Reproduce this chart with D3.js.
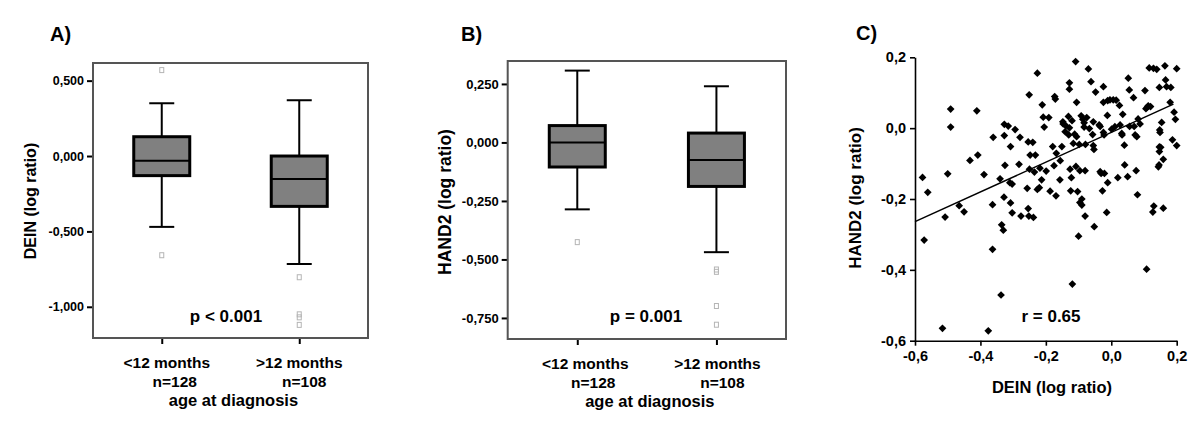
<!DOCTYPE html>
<html>
<head>
<meta charset="utf-8">
<script src="https://cdn.jsdelivr.net/npm/d3@7"></script>
<style>
  body { margin: 0; background: #fff; }
  svg { display: block; }
  text { font-family: "Liberation Sans", Arial, Helvetica, sans-serif; font-weight: bold; fill: #000; }
</style>
</head>
<body>
<div id="chart"></div>
<script>
// groups on the box plot x axis
const groups = ["<12 months", ">12 months"];
const groupN = ["n=128", "n=108"];

// box stats per group: [low whisker, q1, median, q3, high whisker]
const deinStats = [[-0.47, -0.13, -0.031, 0.128, 0.35], [-0.716, -0.334, -0.153, 0.0, 0.37]];
const deinOutliers = [[0.57, -0.658], [-0.804, -1.05, -1.07, -1.12]];
const hand2Stats = [[-0.286, -0.105, 0.0, 0.072, 0.307], [-0.469, -0.188, -0.075, 0.04, 0.24]];
const hand2Outliers = [[-0.426], [-0.543, -0.553, -0.699, -0.779]];

const deinTicks = [0.5, 0, -0.5, -1];
const hand2Ticks = [0.25, 0, -0.25, -0.5, -0.75];
const scatterTicks = [-0.6, -0.4, -0.2, 0, 0.2];

// DEIN vs HAND2 (log ratio)
const scatterPoints = [
  [-0.577,-0.139],[-0.561,-0.181],[-0.572,-0.316],[-0.508,-0.251],[-0.500,-0.129],[-0.491,0.054],
  [-0.491,0.003],[-0.465,-0.219],[-0.450,-0.236],[-0.432,-0.091],[-0.408,-0.076],[-0.411,0.049],
  [-0.389,-0.131],[-0.363,-0.216],[-0.363,-0.342],[-0.361,-0.026],[-0.340,-0.143],[-0.335,-0.273],
  [-0.330,-0.288],[-0.337,-0.471],[-0.328,-0.195],[-0.327,0.011],[-0.325,-0.105],[-0.327,-0.021],
  [-0.315,0.006],[-0.310,-0.154],[-0.303,-0.158],[-0.308,-0.211],[-0.303,-0.239],[-0.294,-0.004],
  [-0.308,-0.052],[-0.282,-0.102],[-0.279,-0.026],[-0.276,-0.248],[-0.252,-0.248],[-0.254,-0.039],
  [-0.257,-0.170],[-0.226,0.155],[-0.251,0.094],[-0.248,-0.076],[-0.250,-0.116],[-0.254,-0.227],
  [-0.240,-0.040],[-0.235,-0.124],[-0.232,-0.076],[-0.238,-0.252],[-0.226,-0.173],[-0.220,-0.168],
  [-0.218,-0.113],[-0.213,-0.146],[-0.211,0.066],[-0.208,0.031],[-0.205,0.003],[-0.199,-0.121],
  [-0.191,0.030],[-0.187,-0.178],[-0.179,-0.052],[-0.175,-0.106],[-0.173,0.089],[-0.171,0.082],
  [-0.169,-0.191],[-0.168,-0.071],[-0.157,-0.146],[-0.156,-0.092],[-0.151,-0.052],[-0.148,0.018],
  [-0.147,0.012],[-0.141,-0.010],[-0.139,0.007],[-0.128,0.128],[-0.128,0.110],[-0.131,0.033],
  [-0.128,0.001],[-0.130,-0.019],[-0.126,-0.116],[-0.124,-0.177],[-0.122,-0.140],[-0.120,0.021],
  [-0.116,-0.043],[-0.112,-0.017],[-0.109,0.188],[-0.106,0.073],[-0.108,-0.108],[-0.106,-0.024],
  [-0.103,-0.179],[-0.098,-0.046],[-0.096,-0.120],[-0.096,-0.210],[-0.090,-0.200],[-0.090,-0.217],
  [-0.092,0.035],[-0.087,0.025],[-0.083,0.003],[-0.083,0.015],[-0.079,-0.046],[-0.080,-0.248],
  [-0.080,-0.120],[-0.075,0.030],[-0.070,0.167],[-0.067,-0.001],[-0.062,0.131],[-0.057,-0.018],
  [-0.055,-0.049],[-0.053,-0.060],[-0.052,-0.278],[-0.048,0.102],[-0.037,0.009],[-0.034,0.005],
  [-0.034,-0.123],[-0.031,-0.128],[-0.027,-0.177],[-0.024,0.117],[-0.024,-0.012],[-0.024,0.073],
  [-0.022,-0.019],[-0.021,-0.128],[-0.014,-0.238],[-0.012,0.036],[-0.011,-0.154],[-0.011,0.078],
  [-0.004,0.080],[0.006,0.080],[0.015,0.079],[0.001,-0.003],[0.011,0.004],[0.020,-0.140],
  [0.025,0.064],[0.032,-0.015],[0.033,-0.019],[0.035,0.039],[0.040,-0.048],[0.041,-0.104],
  [0.050,-0.137],[0.052,0.141],[0.055,0.108],[0.056,0.005],[0.068,0.086],[0.073,-0.019],
  [0.078,-0.024],[0.070,0.005],[0.076,-0.120],[0.080,-0.188],[0.082,0.026],[0.088,0.012],
  [0.103,0.106],[0.106,0.055],[0.108,-0.398],[0.110,0.059],[0.113,0.063],[0.116,0.170],
  [0.120,0.061],[0.127,-0.237],[0.130,-0.220],[0.129,0.169],[0.139,0.166],[0.144,-0.109],
  [0.146,-0.104],[0.147,0.115],[0.147,-0.053],[0.147,-0.066],[0.148,-0.005],[0.149,-0.012],
  [0.151,-0.054],[0.154,0.016],[0.159,-0.226],[0.159,-0.088],[0.164,0.176],[0.166,0.136],
  [0.169,0.117],[0.180,0.073],[0.187,-0.033],[0.192,0.045],[0.196,0.025],[0.200,0.168],
  [0.200,-0.049],[0.182,0.115],[-0.119,-0.440],[-0.516,-0.565],[-0.376,-0.572],[-0.100,-0.305],
  [-0.055,0.018],[0.027,0.009]
];

// regression line
const fit = { slope: 0.42, intercept: -0.012, from: -0.6, to: 0.19 };

const width = 1200, height = 422;
const locale = d3.formatLocale({ decimal: ",", thousands: ".", grouping: [3], currency: ["", ""], minus: "-" });

const svg = d3.select("#chart").append("svg")
    .attr("width", width)
    .attr("height", height);

svg.append("rect").attr("width", width).attr("height", height).attr("fill", "#fff");

function boxPanel(cfg) {
    const g = svg.append("g");
    const x = d3.scalePoint().domain(groups).range([cfg.left, cfg.right]).padding(0.5);
    const y = d3.scaleLinear().domain(cfg.yDomain).range([cfg.bottom, cfg.top]);

    // y ticks
    g.append("g")
        .attr("transform", `translate(${cfg.left},0)`)
        .call(d3.axisLeft(y).tickValues(cfg.ticks).tickSize(6).tickPadding(3).tickFormat(locale.format(".3f")))
        .call(a => a.select(".domain").remove())
        .call(a => a.selectAll("line").attr("stroke", "#000").attr("stroke-width", 2))
        .call(a => a.selectAll("text").attr("font-size", cfg.tickSize).attr("fill", "#000")
            .attr("font-family", null));

    // x ticks
    g.append("g")
        .attr("transform", `translate(0,${cfg.bottom})`)
        .call(d3.axisBottom(x).tickSize(6).tickFormat(""))
        .call(a => a.select(".domain").remove())
        .call(a => a.selectAll("line").attr("stroke", "#000").attr("stroke-width", 2));

    const stats = cfg.stats.map((s, i) => ({ group: groups[i], s, out: cfg.outliers[i] }));
    const boxW = 56, capW = 25;

    const box = g.selectAll("g.box").data(stats).enter().append("g").attr("class", "box");
    box.append("line")
        .attr("x1", d => x(d.group)).attr("x2", d => x(d.group))
        .attr("y1", d => y(d.s[0])).attr("y2", d => y(d.s[4]))
        .attr("stroke", "#000").attr("stroke-width", 2);
    box.selectAll("line.cap").data(d => [d, d].map((e, k) => ({ group: e.group, v: k ? e.s[4] : e.s[0] })))
        .enter().append("line")
        .attr("x1", d => x(d.group) - capW / 2).attr("x2", d => x(d.group) + capW / 2)
        .attr("y1", d => y(d.v)).attr("y2", d => y(d.v))
        .attr("stroke", "#000").attr("stroke-width", 2);
    box.append("rect")
        .attr("x", d => x(d.group) - boxW / 2)
        .attr("y", d => y(d.s[3]))
        .attr("width", boxW)
        .attr("height", d => y(d.s[1]) - y(d.s[3]))
        .attr("fill", "#808080").attr("stroke", "#000").attr("stroke-width", 3);
    box.append("line")
        .attr("x1", d => x(d.group) - boxW / 2).attr("x2", d => x(d.group) + boxW / 2)
        .attr("y1", d => y(d.s[2])).attr("y2", d => y(d.s[2]))
        .attr("stroke", "#000").attr("stroke-width", 2);
    box.selectAll("rect.out").data(d => d.out.map(v => ({ group: d.group, v })))
        .enter().append("rect").attr("class", "out")
        .attr("x", d => x(d.group) - 2).attr("y", d => y(d.v) - 2.5)
        .attr("width", 4).attr("height", 5)
        .attr("fill", "none").attr("stroke", "#b5b5b5").attr("stroke-width", 1);

    // frame
    g.append("rect")
        .attr("x", cfg.left).attr("y", cfg.top)
        .attr("width", cfg.right - cfg.left).attr("height", cfg.bottom - cfg.top)
        .attr("fill", "none").attr("stroke", "#555").attr("stroke-width", 2);

    // category labels
    const lab = g.selectAll("g.lab").data(groups).enter().append("g").attr("class", "lab");
    lab.append("text")
        .attr("x", (d, i) => x(d) + cfg.dx1[i]).attr("y", cfg.bottom + 30)
        .attr("text-anchor", "middle").attr("font-size", 15.5).text(d => d);
    lab.append("text")
        .attr("x", (d, i) => x(d) + cfg.dx2[i]).attr("y", cfg.bottom + 49)
        .attr("text-anchor", "middle").attr("font-size", 15.5).text((d, i) => groupN[i]);
    g.append("text")
        .attr("x", (cfg.left + cfg.right) / 2 + 3).attr("y", cfg.bottom + 68)
        .attr("text-anchor", "middle").attr("font-size", 16.5).text("age at diagnosis");

    // y title
    g.append("text")
        .attr("transform", `translate(${cfg.titleX},${cfg.titleY}) rotate(-90)`)
        .attr("text-anchor", "middle").attr("font-size", cfg.titleSize).text(cfg.title);

    // p value
    g.append("text")
        .attr("x", cfg.pX).attr("y", 322)
        .attr("text-anchor", "middle").attr("font-size", 17).text(cfg.pText);

    // panel letter
    g.append("text")
        .attr("x", cfg.letterX).attr("y", 41)
        .attr("font-size", 20).text(cfg.letter);
}

boxPanel({
    left: 93, right: 368, top: 63, bottom: 338,
    yDomain: [-1.207, 0.617], ticks: deinTicks, tickSize: 12.5,
    stats: deinStats, outliers: deinOutliers,
    dx1: [5, 0], dx2: [13, 5],
    title: "DEIN (log ratio)", titleX: 36, titleY: 201, titleSize: 16,
    pText: "p < 0.001", pX: 226, letter: "A)", letterX: 50
});

boxPanel({
    left: 507.7, right: 786, top: 61, bottom: 339,
    yDomain: [-0.840, 0.348], ticks: hand2Ticks, tickSize: 13,
    stats: hand2Stats, outliers: hand2Outliers,
    dx1: [8, 1], dx2: [16, 6],
    title: "HAND2 (log ratio)", titleX: 451, titleY: 202, titleSize: 17.5,
    pText: "p = 0.001", pX: 646, letter: "B)", letterX: 461
});

// panel C: scatter
const sc = svg.append("g");
const sx = d3.scaleLinear().domain([-0.6, 0.2]).range([915, 1176.7]);
const sy = d3.scaleLinear().domain([-0.6, 0.2]).range([340.7, 57.3]);
const f1 = locale.format(".1f");

sc.append("g")
    .attr("transform", `translate(0,${sy(-0.6)})`)
    .call(d3.axisBottom(sx).tickValues(scatterTicks).tickSize(5).tickPadding(5).tickSizeOuter(0).tickFormat(f1))
    .call(a => a.selectAll("line,path").attr("stroke", "#000").attr("stroke-width", 1.6))
    .call(a => a.selectAll("text").attr("font-size", 14.5).attr("font-family", null).attr("fill", "#000"));

sc.append("g")
    .attr("transform", `translate(${sx(-0.6)},0)`)
    .call(d3.axisLeft(sy).tickValues(scatterTicks).tickSize(5).tickPadding(4).tickSizeOuter(0).tickFormat(f1))
    .call(a => a.selectAll("line,path").attr("stroke", "#000").attr("stroke-width", 1.6))
    .call(a => a.selectAll("text").attr("font-size", 14.5).attr("font-family", null).attr("fill", "#000"));

const diamond = d3.symbol().type(d3.symbolSquare).size(30);
sc.selectAll("path.pt").data(scatterPoints).enter().append("path")
    .attr("class", "pt")
    .attr("d", diamond)
    .attr("transform", d => `translate(${sx(d[0])},${sy(d[1])}) rotate(45)`)
    .attr("fill", "#000");

sc.append("line")
    .attr("x1", sx(fit.from)).attr("y1", sy(fit.intercept + fit.slope * fit.from))
    .attr("x2", sx(fit.to)).attr("y2", sy(fit.intercept + fit.slope * fit.to))
    .attr("stroke", "#000").attr("stroke-width", 1.5);

sc.append("text")
    .attr("x", 1051).attr("y", 322)
    .attr("text-anchor", "middle").attr("font-size", 17).text("r = 0.65");

sc.append("text")
    .attr("x", 1052).attr("y", 393)
    .attr("text-anchor", "middle").attr("font-size", 16.5).text("DEIN (log ratio)");

sc.append("text")
    .attr("transform", "translate(861,198) rotate(-90)")
    .attr("text-anchor", "middle").attr("font-size", 17).text("HAND2 (log ratio)");

sc.append("text")
    .attr("x", 856).attr("y", 40)
    .attr("font-size", 20).text("C)");
</script>
</body>
</html>
